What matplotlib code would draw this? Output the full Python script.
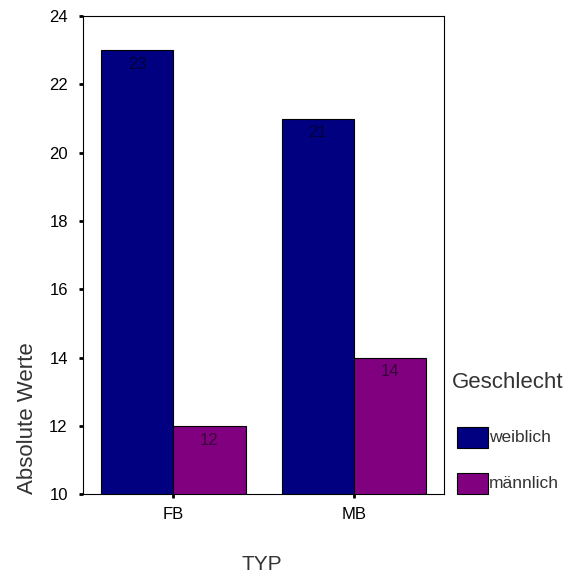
import numpy as np
import matplotlib.pyplot as plt
from matplotlib.patches import Rectangle

categories = ['FB', 'MB']
groups = ['weiblich', 'männlich']
weiblich = [23, 21]
maennlich = [12, 14]
yticks = [10, 12, 14, 16, 18, 20, 22, 24]

colors = ['#000080', '#800080']

plt.rcParams['font.family'] = ['Liberation Sans', 'DejaVu Sans']

fig = plt.figure(figsize=(5.65, 5.78), dpi=100)
ax = fig.add_axes([0.147, 0.145, 0.639, 0.827])

x = np.arange(len(categories))
w = 0.4
b1 = ax.bar(x - w / 2, weiblich, w, bottom=0, color=colors[0],
            edgecolor='black', linewidth=0.8)
b2 = ax.bar(x + w / 2, maennlich, w, bottom=0, color=colors[1],
            edgecolor='black', linewidth=0.8)

# value labels, dark and barely visible on the bars
for bars, vals in [(b1, weiblich), (b2, maennlich)]:
    for r, v in zip(bars, vals):
        ax.text(r.get_x() + r.get_width() / 2, v - 0.2, str(v),
                ha='center', va='top', fontsize=12, color='black', alpha=0.55)

ax.set_ylim(10, 24)
ax.set_xlim(-0.5, 1.5)
ax.set_yticks(yticks)
ax.set_xticks(x)
ax.set_xticklabels(categories)
ax.tick_params(axis='both', direction='out', length=3, width=2,
               labelsize=12, colors='black', pad=6)
ax.tick_params(axis='y', pad=8)
for s in ax.spines.values():
    s.set_linewidth(0.8)

fig.text(0.048, 1 - 418 / 578, 'Absolute Werte', rotation=90, ha='center',
         va='center', fontsize=16, color='#333333')
fig.text(262 / 565, 1 - 565 / 578, 'TYP', ha='center', va='center',
         fontsize=15, color='#333333')

# legend drawn by hand, like the original
fig.text(452 / 565, 1 - 383 / 578, 'Geschlecht', ha='left', va='center',
         fontsize=16, color='#333333')
for i, (g, c) in enumerate(zip(groups, colors)):
    yb = 1 - (448 + i * 46) / 578
    fig.patches.append(Rectangle((457 / 565, yb), 31 / 565, 21 / 578,
                                 transform=fig.transFigure, facecolor=c,
                                 edgecolor='black', linewidth=0.8))
    fig.text(489 / 565, yb + 10.5 / 578, g, ha='left', va='center',
             fontsize=12.5, color='#333333')

fig.savefig('out.png', dpi=100)
